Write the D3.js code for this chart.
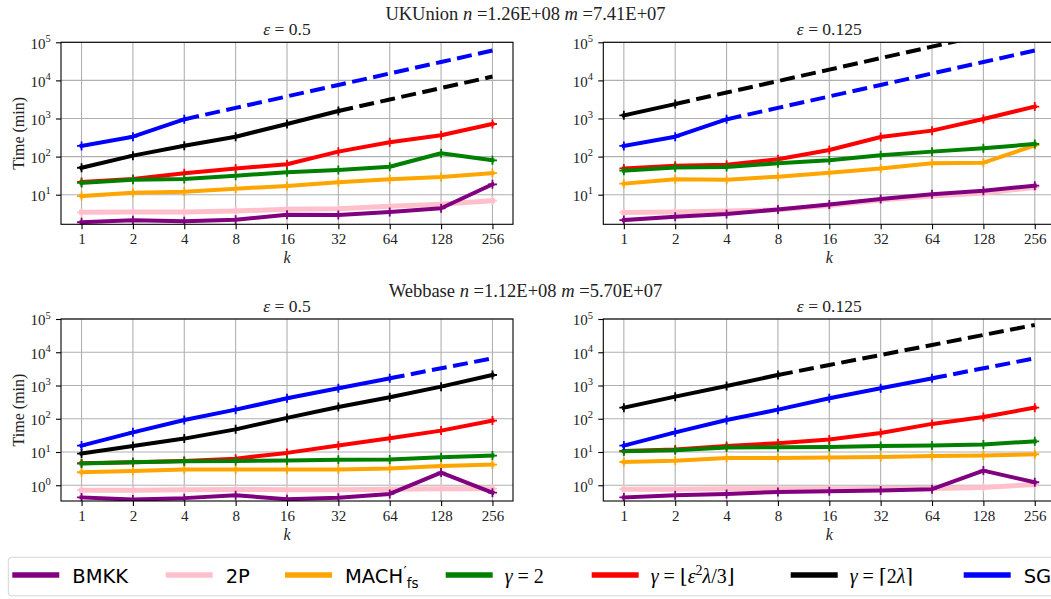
<!DOCTYPE html>
<html><head><meta charset="utf-8">
<script src="https://cdn.jsdelivr.net/npm/d3@7"></script>
<style>body{margin:0;background:#fff}svg{display:block}</style>
</head><body>
<svg id="chart" width="1051" height="599"></svg>
<script>
// ---------------- DATA ----------------
const kValues = [1, 2, 4, 8, 16, 32, 64, 128, 256];
const seriesKeys = ["bmkk", "twoP", "mach", "gamma2", "gammaFloor", "gammaCeil", "sg"];
const yTicksTop = [10, 100, 1000, 10000, 100000];
const yTicksBottom = [1, 10, 100, 1000, 10000, 100000];
const yMinTop = 1.67, yMinBottom = 0.336, yMaxAll = 1e5;

// UKUnion, eps = 0.5
const ukEps05Bmkk       = [1.89, 2.13, 2.0, 2.21, 2.98, 2.93, 3.5, 4.4, 18.7];
const ukEps05TwoP       = [3.45, 3.5, 3.5, 3.73, 4.13, 4.3, 4.95, 5.6, 7.0];
const ukEps05Mach       = [9.2, 11.3, 12.0, 14.4, 16.9, 21.1, 25.3, 29.2, 37];
const ukEps05Gamma2     = [20.3, 24.8, 25.8, 31.6, 38.7, 44.5, 54, 122, 80];
const ukEps05GammaFloor = [21.5, 25.8, 36.4, 49, 63, 135, 237, 362, 718];
const ukEps05GammaCeil  = [51, 106, 193, 333, 718, 1575, 3150, 6300, 12600];
const ukEps05Sg         = [190, 333, 950, 1900, 3800, 7600, 15200, 30400, 60800];
const ukEps05CeilMeasured = 6, ukEps05SgMeasured = 3;

// UKUnion, eps = 0.125
const ukEps0125Bmkk       = [2.16, 2.64, 3.1, 4.1, 5.5, 7.7, 10.2, 12.7, 17.2];
const ukEps0125TwoP       = [3.43, 3.5, 3.72, 4.0, 5.2, 7.3, 9.2, 11, 15.5];
const ukEps0125Mach       = [19.5, 25.3, 24.8, 29.7, 37.8, 49, 66.5, 69, 197];
const ukEps0125Gamma2     = [42.6, 52, 53, 66.5, 79.7, 108, 135, 165, 214];
const ukEps0125GammaFloor = [49, 57.7, 61, 85, 149, 327, 480, 970, 2050];
const ukEps0125GammaCeil  = [1210, 2400, 4800, 9600, 19200, 38400, 76800, 153600, 307200];
const ukEps0125Sg         = [190, 333, 950, 1900, 3800, 7600, 15200, 30400, 60800];
const ukEps0125CeilMeasured = 2, ukEps0125SgMeasured = 3;

// Webbase, eps = 0.5
const webEps05Bmkk       = [0.43, 0.37, 0.41, 0.5, 0.38, 0.42, 0.55, 2.4, 0.6];
const webEps05TwoP       = [0.71, 0.71, 0.73, 0.75, 0.73, 0.73, 0.76, 0.79, 0.79];
const webEps05Mach       = [2.46, 2.7, 2.96, 2.96, 2.96, 2.96, 3.17, 3.8, 4.2];
const webEps05Gamma2     = [4.5, 4.9, 5.3, 5.4, 5.55, 5.8, 5.9, 6.95, 7.8];
const webEps05GammaFloor = [4.6, 4.9, 5.4, 6.3, 9.4, 15.6, 25.9, 44, 88];
const webEps05GammaCeil  = [8.95, 15.2, 25.3, 48, 106, 226, 442, 925, 2070];
const webEps05Sg         = [15.6, 39, 92, 188, 412, 824, 1645, 3290, 6580];
const webEps05CeilMeasured = 9, webEps05SgMeasured = 7;

// Webbase, eps = 0.125
const webEps0125Bmkk       = [0.43, 0.5, 0.55, 0.63, 0.66, 0.69, 0.76, 2.76, 1.23];
const webEps0125TwoP       = [0.76, 0.76, 0.78, 0.78, 0.79, 0.8, 0.8, 0.86, 1.05];
const webEps0125Mach       = [5.0, 5.5, 6.6, 6.6, 6.8, 7.1, 7.6, 7.8, 8.55];
const webEps0125Gamma2     = [10.5, 11.3, 13.6, 13.9, 14.2, 15.2, 15.6, 16.7, 21];
const webEps0125GammaFloor = [10.8, 11.8, 15.2, 18.3, 23.6, 37.4, 70, 113, 216];
const webEps0125GammaCeil  = [216, 462, 968, 2070, 4140, 8280, 16560, 33120, 66240];
const webEps0125Sg         = [15.6, 39, 92, 188, 412, 824, 1645, 3290, 6580];
const webEps0125CeilMeasured = 4, webEps0125SgMeasured = 7;

// ---------------- STYLE / LAYOUT ----------------
const colors = {bmkk:"#800080", twoP:"#ffc0cb", mach:"#ffa500", gamma2:"#008000",
                gammaFloor:"#ff0000", gammaCeil:"#000000", sg:"#0000ff"};
const widths = {bmkk:4, twoP:5, mach:4, gamma2:4, gammaFloor:4, gammaCeil:4, sg:4};
const drawOrder = ["twoP", "mach", "gammaFloor", "gamma2", "gammaCeil", "sg", "bmkk"];
const serif = "'Liberation Serif','DejaVu Serif',serif";
const sans = "'DejaVu Sans','Liberation Sans',sans-serif";
const txt = "#222";

const panels = [
  {box:{l:61, r:513, t:42.3, b:224.3}, eps:"0.5", yTicks:yTicksTop, yMin:yMinTop, ylabel:true,
   data:{bmkk:ukEps05Bmkk, twoP:ukEps05TwoP, mach:ukEps05Mach, gamma2:ukEps05Gamma2,
         gammaFloor:ukEps05GammaFloor, gammaCeil:ukEps05GammaCeil, sg:ukEps05Sg},
   measured:{gammaCeil:ukEps05CeilMeasured, sg:ukEps05SgMeasured}},
  {box:{l:603.3, r:1055.3, t:42.3, b:224.3}, eps:"0.125", yTicks:yTicksTop, yMin:yMinTop, ylabel:false,
   data:{bmkk:ukEps0125Bmkk, twoP:ukEps0125TwoP, mach:ukEps0125Mach, gamma2:ukEps0125Gamma2,
         gammaFloor:ukEps0125GammaFloor, gammaCeil:ukEps0125GammaCeil, sg:ukEps0125Sg},
   measured:{gammaCeil:ukEps0125CeilMeasured, sg:ukEps0125SgMeasured}},
  {box:{l:61, r:513, t:319, b:501}, eps:"0.5", yTicks:yTicksBottom, yMin:yMinBottom, ylabel:true,
   data:{bmkk:webEps05Bmkk, twoP:webEps05TwoP, mach:webEps05Mach, gamma2:webEps05Gamma2,
         gammaFloor:webEps05GammaFloor, gammaCeil:webEps05GammaCeil, sg:webEps05Sg},
   measured:{gammaCeil:webEps05CeilMeasured, sg:webEps05SgMeasured}},
  {box:{l:603.3, r:1055.3, t:319, b:501}, eps:"0.125", yTicks:yTicksBottom, yMin:yMinBottom, ylabel:false,
   data:{bmkk:webEps0125Bmkk, twoP:webEps0125TwoP, mach:webEps0125Mach, gamma2:webEps0125Gamma2,
         gammaFloor:webEps0125GammaFloor, gammaCeil:webEps0125GammaCeil, sg:webEps0125Sg},
   measured:{gammaCeil:webEps0125CeilMeasured, sg:webEps0125SgMeasured}}
];

const suptitles = [
  {y:20, name:"UKUnion ", n:"1.26E+08", m:"7.41E+07"},
  {y:297, name:"Webbase ", n:"1.12E+08", m:"5.70E+07"}
];

const svg = d3.select("#chart");
const defs = svg.append("defs");

// suptitles
suptitles.forEach(s => {
  const t = svg.append("text").attr("x", 525.5).attr("y", s.y).attr("text-anchor", "middle")
    .attr("font-family", serif).attr("font-size", 18.5).attr("fill", txt);
  t.append("tspan").text(s.name);
  t.append("tspan").attr("font-style", "italic").text("n");
  t.append("tspan").text(" =" + s.n + " ");
  t.append("tspan").attr("font-style", "italic").text("m");
  t.append("tspan").text(" =" + s.m);
});

panels.forEach((p, pi) => {
  const b = p.box;
  const pad = (b.r - b.l) * 0.05 / 1.1;
  const x = d3.scaleLog().base(2).domain([1, 256]).range([b.l + pad, b.r - pad]);
  const y = d3.scaleLog().domain([p.yMin, yMaxAll]).range([b.b, b.t]);
  const g = svg.append("g");

  // grid
  g.append("g").selectAll("line").data(kValues).join("line")
    .attr("x1", d => x(d)).attr("x2", d => x(d)).attr("y1", b.t).attr("y2", b.b)
    .attr("stroke", "#b0b0b0").attr("stroke-width", 1.1);
  g.append("g").selectAll("line").data(p.yTicks).join("line")
    .attr("x1", b.l).attr("x2", b.r).attr("y1", d => y(d)).attr("y2", d => y(d))
    .attr("stroke", "#b0b0b0").attr("stroke-width", 1.1);

  // clip
  const cid = "clip" + pi;
  defs.append("clipPath").attr("id", cid).append("rect")
    .attr("x", b.l).attr("y", b.t).attr("width", b.r - b.l).attr("height", b.b - b.t);
  const plot = g.append("g").attr("clip-path", `url(#${cid})`);

  const line = d3.line().x(d => x(d.k)).y(d => y(d.v));
  drawOrder.forEach(key => {
    const pts = kValues.map((k, i) => ({k, v: p.data[key][i]}));
    const nSolid = p.measured[key] !== undefined ? p.measured[key] : pts.length;
    const solid = pts.slice(0, nSolid);
    const dashed = pts.slice(nSolid - 1);
    if (dashed.length > 1) {
      plot.append("path").attr("d", line(dashed)).attr("fill", "none")
        .attr("stroke", colors[key]).attr("stroke-width", widths[key])
        .attr("stroke-dasharray", "15,6.5").attr("stroke-linecap", "butt");
    }
    plot.append("path").attr("d", line(solid)).attr("fill", "none")
      .attr("stroke", colors[key]).attr("stroke-width", widths[key])
      .attr("stroke-linejoin", "round").attr("stroke-linecap", "square");
    plot.append("g").selectAll("path").data(solid).join("path")
      .attr("transform", d => `translate(${x(d.k)},${y(d.v)})`)
      .attr("d", "M-4.5,0H4.5M0,-4.5V4.5")
      .attr("stroke", colors[key]).attr("stroke-width", 1.8).attr("fill", "none");
  });

  // spines
  g.append("rect").attr("x", b.l).attr("y", b.t).attr("width", b.r - b.l).attr("height", b.b - b.t)
    .attr("fill", "none").attr("stroke", "#000").attr("stroke-width", 1.1);

  // x axis
  const xa = g.append("g").attr("transform", `translate(0,${b.b})`)
    .call(d3.axisBottom(x).tickValues(kValues).tickFormat(d => String(d)).tickSize(5).tickPadding(4.3));
  xa.select(".domain").remove();
  xa.selectAll("line").attr("stroke", "#000").attr("stroke-width", 1.1);
  xa.selectAll("text").attr("font-family", serif).attr("font-size", 15).attr("fill", txt);

  // y axis ticks
  const ya = g.append("g").attr("transform", `translate(${b.l},0)`)
    .call(d3.axisLeft(y).tickValues(p.yTicks).tickFormat("").tickSize(5));
  ya.select(".domain").remove();
  ya.selectAll("line").attr("stroke", "#000").attr("stroke-width", 1.1);
  p.yTicks.forEach(v => {
    const t = g.append("text").attr("x", b.l - 10.3).attr("y", y(v) + 6.3)
      .attr("text-anchor", "end").attr("font-family", serif).attr("font-size", 15).attr("fill", txt);
    t.append("tspan").text("10");
    t.append("tspan").attr("dy", -6.8).attr("font-size", 10.5).text(String(Math.round(Math.log10(v))));
  });

  // titles
  const tt = g.append("text").attr("x", (b.l + b.r) / 2).attr("y", b.t - 7).attr("text-anchor", "middle")
    .attr("font-family", serif).attr("font-size", 17.5).attr("fill", txt);
  tt.append("tspan").attr("font-style", "italic").text("ε");
  tt.append("tspan").text(" = " + p.eps);

  g.append("text").attr("x", (b.l + b.r) / 2).attr("y", b.b + 39)
    .attr("text-anchor", "middle").attr("font-family", serif).attr("font-style", "italic")
    .attr("font-size", 16).attr("fill", txt).text("k");

  if (p.ylabel) {
    g.append("text").attr("transform", `translate(${23.5},${(b.t + b.b) / 2}) rotate(-90)`)
      .attr("text-anchor", "middle").attr("font-family", serif).attr("font-size", 16).attr("fill", txt)
      .text("Time (min)");
  }
});

// ---------------- LEGEND ----------------
const legendItemX = [12.3, 165.7, 285, 445.7, 591.7, 790.7, 963.7];
const legendY = 575;
const lg = svg.append("g");
lg.append("rect").attr("x", 8.3).attr("y", 557.3).attr("width", 1060).attr("height", 38.5)
  .attr("rx", 3).attr("fill", "#fff").attr("fill-opacity", 0.8).attr("stroke", "#d5d5d5").attr("stroke-width", 1);

seriesKeys.forEach((key, i) => {
  const x0 = legendItemX[i];
  lg.append("line").attr("x1", x0).attr("x2", x0 + 47).attr("y1", legendY).attr("y2", legendY)
    .attr("stroke", colors[key]).attr("stroke-width", 5.5);
  const lx = x0 + 60;
  const base = legendY + 8;
  if (key === "bmkk" || key === "twoP" || key === "sg") {
    lg.append("text").attr("x", lx).attr("y", base).attr("font-family", sans).attr("font-size", 19.5)
      .attr("fill", "#000").text(key === "bmkk" ? "BMKK" : key === "twoP" ? "2P" : "SG");
  } else if (key === "mach") {
    const t = lg.append("text").attr("x", lx).attr("y", base).attr("font-family", sans).attr("font-size", 19.5)
      .attr("fill", "#000");
    t.append("tspan").text("MACH");
    t.append("tspan").attr("dy", -7).attr("dx", 0.5).attr("font-size", 14).text("′");
    t.append("tspan").attr("dy", 12).attr("font-size", 13.5).text("fs");
  } else {
    const t = lg.append("text").attr("x", lx - 1).attr("y", base).attr("font-family", serif)
      .attr("font-size", 20).attr("fill", "#000");
    t.append("tspan").attr("font-style", "italic").text("γ");
    t.append("tspan").text(" = ");
    if (key === "gamma2") {
      t.append("tspan").text("2");
    } else if (key === "gammaFloor") {
      t.append("tspan").text("⌊");
      t.append("tspan").attr("font-style", "italic").text("ε");
      t.append("tspan").attr("dy", -8).attr("font-size", 14).text("2");
      t.append("tspan").attr("dy", 8).attr("font-style", "italic").text("λ");
      t.append("tspan").text("/3⌋");
    } else {
      t.append("tspan").text("⌈2");
      t.append("tspan").attr("font-style", "italic").text("λ");
      t.append("tspan").text("⌉");
    }
  }
});
</script>
</body></html>
